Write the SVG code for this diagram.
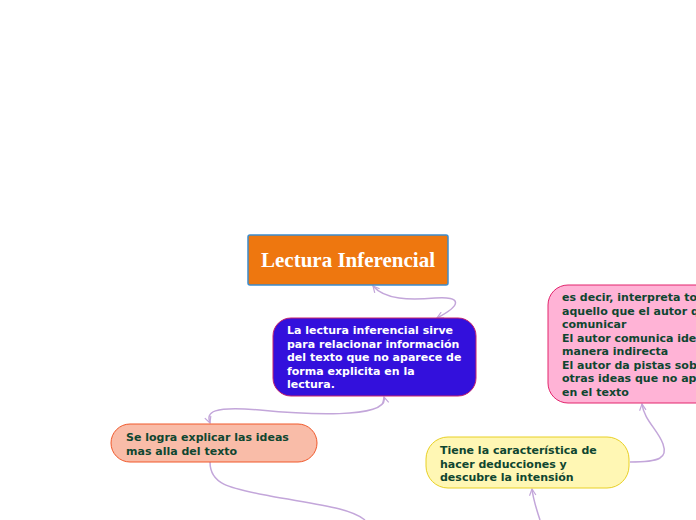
<svg xmlns="http://www.w3.org/2000/svg" width="696" height="520" viewBox="0 0 696 520">
<defs>
<marker id="arr" viewBox="0 0 10 10" refX="9" refY="5" markerWidth="8" markerHeight="8" orient="auto-start-reverse" markerUnits="userSpaceOnUse">
<path d="M1,1 L9,5 L1,9" fill="none" stroke="#c3a6da" stroke-width="1.5"/>
</marker>
</defs>
<style>
.t{font-family:"DejaVu Sans",Verdana,sans-serif;font-weight:bold;font-size:11px;fill:#0f4630}
.w{fill:#ffffff}
.c{fill:none;stroke:#c3a6da;stroke-width:1.5}
</style>
<rect width="696" height="520" fill="#ffffff"/>
<g id="connectors">
<path class="c" d="M373,286 C385,300 410,300 435,298 C462,296 462,305 437,318" marker-start="url(#arr)" marker-end="url(#arr)"/>
<path class="c" d="M384,397 C390,420 300,414 260,410 C212,406 206,412 210,423" marker-start="url(#arr)" marker-end="url(#arr)"/>
<path class="c" d="M210,462 C210,485 230,488 270,496 C320,505 350,508 365,520"/>
<path class="c" d="M630,462 C660,462 668,458 663,444 C658,430 644,420 642,404" marker-end="url(#arr)"/>
<path class="c" d="M540,520 C536,508 533,498 532,489" marker-end="url(#arr)"/>
</g>
<g id="title">
<rect x="248" y="235" width="200" height="50" rx="2" fill="#ee770f" stroke="#3c8ccc" stroke-width="1.5"/>
<text x="348" y="267" text-anchor="middle" font-family="'Liberation Serif','Times New Roman',serif" font-weight="bold" font-size="21" fill="#ffffff">Lectura Inferencial</text>
</g>
<g id="n-sirve">
<rect x="273" y="318" width="203" height="78" rx="18" fill="#3310dc" stroke="#c8226a" stroke-width="1"/>
<text class="t w" x="287"><tspan y="334">La lectura inferencial sirve</tspan><tspan x="287" y="347.5">para relacionar información</tspan><tspan x="287" y="361">del texto que no aparece de</tspan><tspan x="287" y="374.5">forma explicita en la</tspan><tspan x="287" y="388">lectura.</tspan></text>
</g>
<g id="n-logra">
<rect x="111" y="424" width="206" height="38" rx="19" fill="#f9bca8" stroke="#f0582a" stroke-width="1"/>
<text class="t" x="126"><tspan y="441">Se logra explicar las ideas</tspan><tspan x="126" y="454.5">mas alla del texto</tspan></text>
</g>
<g id="n-tiene">
<rect x="426" y="437" width="203" height="51" rx="22" fill="#fff7b4" stroke="#e8d024" stroke-width="1"/>
<text class="t" x="440"><tspan y="454">Tiene la característica de</tspan><tspan x="440" y="467.5">hacer deducciones y</tspan><tspan x="440" y="481">descubre la intensión</tspan></text>
</g>
<g id="n-decir">
<rect x="548" y="285" width="170" height="118" rx="20" fill="#ffb3d6" stroke="#e2246c" stroke-width="1"/>
<text class="t" x="562"><tspan y="301">es decir, interpreta todo</tspan><tspan x="562" y="314.5">aquello que el autor quiere</tspan><tspan x="562" y="328">comunicar</tspan><tspan x="562" y="341.5">El autor comunica ideas de</tspan><tspan x="562" y="355">manera indirecta</tspan><tspan x="562" y="368.5">El autor da pistas sobre</tspan><tspan x="562" y="382">otras ideas que no aparecen</tspan><tspan x="562" y="395.5">en el texto</tspan></text>
</g>
</svg>
